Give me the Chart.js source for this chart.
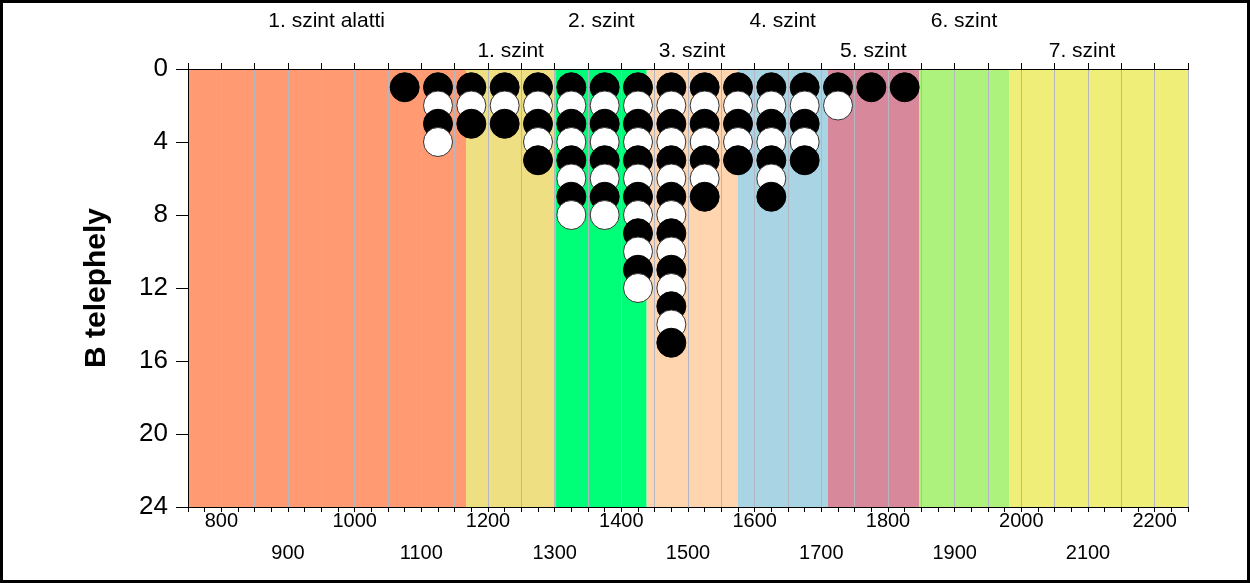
<!DOCTYPE html>
<html>
<head>
<meta charset="utf-8">
<script src="https://cdn.jsdelivr.net/npm/chart.js@4"></script>
<style>
  html, body { margin: 0; padding: 0; background: #fff; }
  #wrap { width: 1250px; height: 583px; }
</style>
</head>
<body>
<div id="wrap"><canvas id="dotChart" width="1250" height="583"></canvas></div>
<script>
// ---- data ----
// column centres (x) and how many dots are stacked in each column
const binCenters = [1075, 1125, 1175, 1225, 1275, 1325, 1375, 1425, 1475, 1525, 1575, 1625, 1675, 1725, 1775, 1825];
const counts     = [1,    4,    3,    3,    5,    8,    8,    12,   15,   7,    5,    7,    5,    2,    1,    1];

// background level bands
const bandStarts = [750, 1167, 1301, 1438, 1575, 1710, 1847, 1982];
const bandEnds   = [1167, 1301, 1438, 1575, 1710, 1847, 1982, 2250];
const bandColors = ["#FF9A72", "#EEE082", "#00FF78", "#FFD5B0", "#A8D4E4", "#D8889B", "#ACF27C", "#EEEE78"];
const bandLabels = ["1. szint alatti", "1. szint", "2. szint", "3. szint", "4. szint", "5. szint", "6. szint", "7. szint"];
const bandLabelX = [958, 1234, 1370, 1506, 1642, 1778, 1914, 2091];
const bandLabelRow = [0, 1, 0, 1, 0, 1, 0, 1];

const yTicks = [0, 4, 8, 12, 16, 20, 24];

const FONT = "Arial, 'Liberation Sans', sans-serif";

// build the stacked dots, top to bottom so lower dots sit on top of upper ones
const points = [];
const fills = [];
const strokes = [];
binCenters.forEach((x, i) => {
  for (let k = 1; k <= counts[i]; k++) {
    points.push({ x: x, y: k });
    const black = k % 2 === 1;
    fills.push(black ? "#000000" : "#ffffff");
    strokes.push(black ? "#000000" : "#333333");
  }
});

// bands behind everything, labels + frame on top
const bandsPlugin = {
  id: "bands",
  beforeDraw(chart) {
    const { ctx, chartArea } = chart;
    const xs = chart.scales.x;
    ctx.save();
    ctx.beginPath();
    ctx.rect(chartArea.left, chartArea.top, chartArea.right - chartArea.left, chartArea.bottom - chartArea.top);
    ctx.clip();
    bandStarts.forEach((s, i) => {
      const x0 = xs.getPixelForValue(s);
      const x1 = xs.getPixelForValue(bandEnds[i]);
      ctx.fillStyle = bandColors[i];
      ctx.fillRect(x0, chartArea.top, x1 - x0, chartArea.bottom - chartArea.top);
    });
    ctx.restore();
  },
  afterDraw(chart) {
    const { ctx } = chart;
    const xs = chart.scales.x;
    ctx.save();
    ctx.fillStyle = "#000";
    ctx.font = "21px " + FONT;
    ctx.textAlign = "center";
    ctx.textBaseline = "alphabetic";
    bandLabels.forEach((t, i) => {
      const y = bandLabelRow[i] === 0 ? 27 : 57;
      ctx.fillText(t, xs.getPixelForValue(bandLabelX[i]), y);
    });
    // outer frame
    ctx.strokeStyle = "#000";
    ctx.lineWidth = 3;
    ctx.strokeRect(1.5, 1.5, chart.width - 3, chart.height - 3);
    ctx.restore();
  }
};

new Chart(document.getElementById("dotChart"), {
  type: "scatter",
  data: {
    datasets: [{
      data: points,
      pointRadius: 14.5,
      pointHoverRadius: 14.5,
      pointBackgroundColor: fills,
      pointBorderColor: strokes,
      pointBorderWidth: 1
    }]
  },
  options: {
    responsive: false,
    animation: false,
    events: [],
    layout: { padding: { left: 0, top: 63, right: 62, bottom: 0 } },
    plugins: { legend: { display: false }, tooltip: { enabled: false } },
    scales: {
      x: {
        type: "linear",
        position: "bottom",
        min: 750,
        max: 2250,
        afterFit: s => { s.height = 76; },
        ticks: {
          stepSize: 25,
          autoSkip: false,
          maxRotation: 0,
          padding: -7,
          color: "#000",
          font: { family: FONT, size: 20, lineHeight: 1.6 },
          callback: v => {
            if (v % 200 === 0) return [String(v), ""];
            if (v % 100 === 0) return ["", String(v)];
            return "";
          }
        },
        grid: {
          color: c => (c.tick && c.tick.value % 50 === 0 && c.tick.value !== 750) ? "#B4B6C2" : "rgba(0,0,0,0)",
          tickColor: "#000",
          tickLength: 5,
          lineWidth: 1
        },
        border: { color: "#000", width: 1 }
      },
      x2: {
        type: "linear",
        position: "top",
        min: 750,
        max: 2250,
        afterFit: s => { s.height = 6; },
        ticks: { display: false, stepSize: 50, autoSkip: false },
        grid: { drawOnChartArea: false, color: "#000", tickLength: 6 },
        border: { color: "#000", width: 1 }
      },
      y: {
        type: "linear",
        reverse: true,
        min: 0,
        max: 24,
        afterFit: s => { s.width = 188; },
        afterBuildTicks: s => { s.ticks = yTicks.map(v => ({ value: v })); },
        ticks: {
          padding: 8,
          color: "#000",
          font: { family: FONT, size: 26 }
        },
        grid: { drawOnChartArea: false, color: "#000", tickLength: 12 },
        border: { color: "#000", width: 1 },
        title: {
          display: true,
          text: "B telephely",
          color: "#000",
          font: { family: FONT, size: 30, weight: "bold" },
          padding: { top: 79, bottom: 0 }
        }
      }
    }
  },
  plugins: [bandsPlugin]
});
</script>
</body>
</html>
